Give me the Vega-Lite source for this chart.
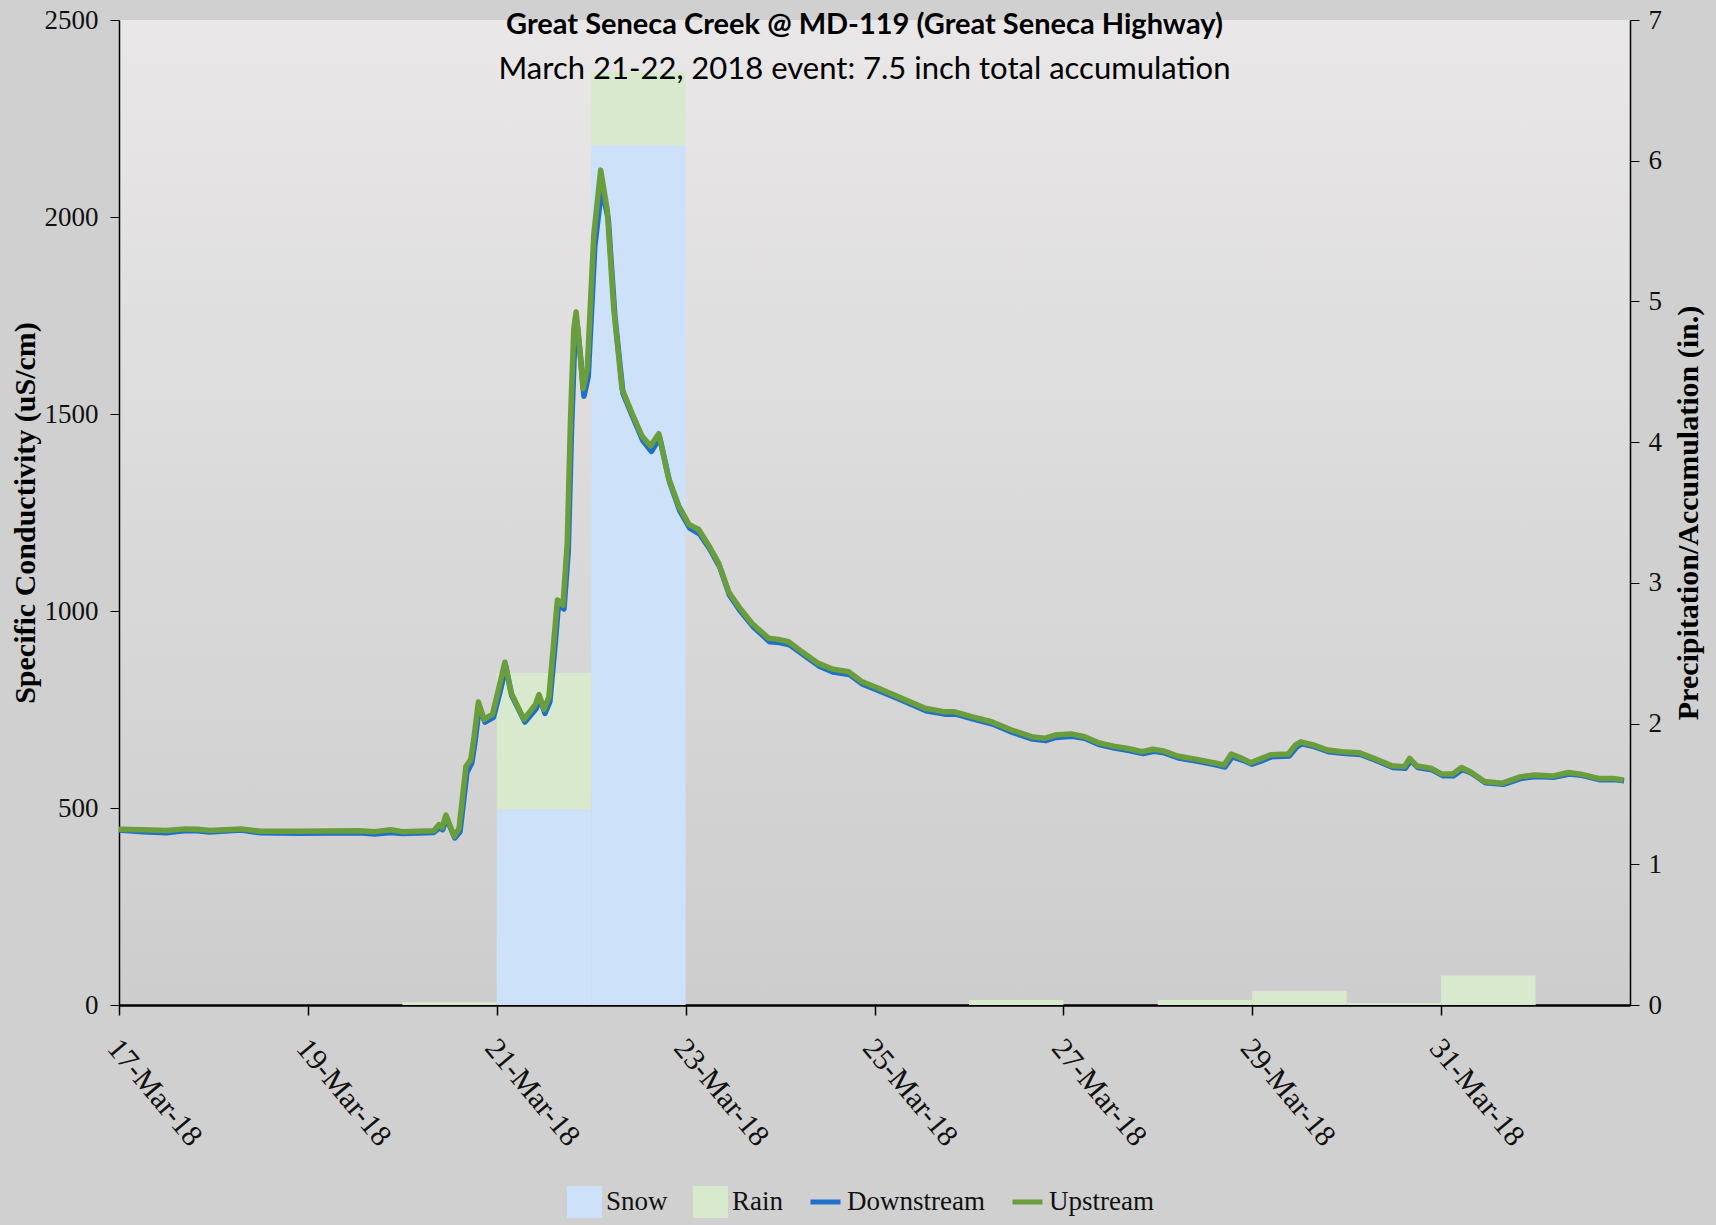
{
  "$schema": "https://vega.github.io/schema/vega-lite/v6.json",
  "width": 1511,
  "height": 985,
  "autosize": {"type": "none"},
  "padding": {"left": 119, "top": 20, "right": 86, "bottom": 220},
  "background": "#d0d0d0",
  "view": {
    "stroke": null,
    "fill": {
      "gradient": "linear", "x1": 0, "y1": 0, "x2": 0, "y2": 1,
      "stops": [{"offset": 0, "color": "#e9e7e8"}, {"offset": 1, "color": "#cdcdcd"}]
    }
  },
  "title": {
    "text": "Great Seneca Creek @ MD-119 (Great Seneca Highway)",
    "subtitle": "March 21-22, 2018 event: 7.5 inch total accumulation",
    "anchor": "middle",
    "frame": "group",
    "offset": -79,
    "dx": -10,
    "font": "Lato",
    "fontSize": 29,
    "fontWeight": "bold",
    "color": "#000000",
    "subtitleFont": "Lato",
    "subtitleFontSize": 31,
    "subtitleColor": "#000000",
    "subtitlePadding": 15
  },
  "datasets": {
    "precip": [
      {"date": "2018-03-20T00:00", "end": "2018-03-21T00:00", "type": "Rain", "v": 0.02},
      {"date": "2018-03-21T00:00", "end": "2018-03-22T00:00", "type": "Snow", "v": 1.39},
      {"date": "2018-03-21T00:00", "end": "2018-03-22T00:00", "type": "Rain", "v": 0.97},
      {"date": "2018-03-22T00:00", "end": "2018-03-23T00:00", "type": "Snow", "v": 6.11},
      {"date": "2018-03-22T00:00", "end": "2018-03-23T00:00", "type": "Rain", "v": 0.52},
      {"date": "2018-03-26T00:00", "end": "2018-03-27T00:00", "type": "Rain", "v": 0.035},
      {"date": "2018-03-28T00:00", "end": "2018-03-29T00:00", "type": "Rain", "v": 0.035},
      {"date": "2018-03-29T00:00", "end": "2018-03-30T00:00", "type": "Rain", "v": 0.1},
      {"date": "2018-03-30T00:00", "end": "2018-03-31T00:00", "type": "Rain", "v": 0.015},
      {"date": "2018-03-31T00:00", "end": "2018-04-01T00:00", "type": "Rain", "v": 0.21}
    ],
    "down": [
      {"t": "2018-03-17T00:00", "site": "Downstream", "v": 444},
      {"t": "2018-03-17T06:00", "site": "Downstream", "v": 440},
      {"t": "2018-03-17T12:00", "site": "Downstream", "v": 437},
      {"t": "2018-03-17T17:00", "site": "Downstream", "v": 443},
      {"t": "2018-03-17T20:00", "site": "Downstream", "v": 442},
      {"t": "2018-03-17T23:00", "site": "Downstream", "v": 439},
      {"t": "2018-03-18T07:00", "site": "Downstream", "v": 444},
      {"t": "2018-03-18T12:00", "site": "Downstream", "v": 437},
      {"t": "2018-03-18T22:00", "site": "Downstream", "v": 436},
      {"t": "2018-03-19T13:00", "site": "Downstream", "v": 437},
      {"t": "2018-03-19T17:00", "site": "Downstream", "v": 434},
      {"t": "2018-03-19T21:00", "site": "Downstream", "v": 438},
      {"t": "2018-03-20T00:00", "site": "Downstream", "v": 435},
      {"t": "2018-03-20T08:00", "site": "Downstream", "v": 438},
      {"t": "2018-03-20T09:30", "site": "Downstream", "v": 450},
      {"t": "2018-03-20T10:15", "site": "Downstream", "v": 445},
      {"t": "2018-03-20T11:15", "site": "Downstream", "v": 474},
      {"t": "2018-03-20T13:20", "site": "Downstream", "v": 424},
      {"t": "2018-03-20T14:40", "site": "Downstream", "v": 440},
      {"t": "2018-03-20T16:25", "site": "Downstream", "v": 590},
      {"t": "2018-03-20T17:40", "site": "Downstream", "v": 615},
      {"t": "2018-03-20T18:30", "site": "Downstream", "v": 670},
      {"t": "2018-03-20T19:35", "site": "Downstream", "v": 758},
      {"t": "2018-03-20T21:00", "site": "Downstream", "v": 718},
      {"t": "2018-03-20T23:10", "site": "Downstream", "v": 730},
      {"t": "2018-03-21T00:50", "site": "Downstream", "v": 795},
      {"t": "2018-03-21T02:20", "site": "Downstream", "v": 858},
      {"t": "2018-03-21T03:50", "site": "Downstream", "v": 785},
      {"t": "2018-03-21T07:10", "site": "Downstream", "v": 718},
      {"t": "2018-03-21T10:00", "site": "Downstream", "v": 752},
      {"t": "2018-03-21T11:00", "site": "Downstream", "v": 778},
      {"t": "2018-03-21T12:15", "site": "Downstream", "v": 740},
      {"t": "2018-03-21T13:30", "site": "Downstream", "v": 770},
      {"t": "2018-03-21T14:50", "site": "Downstream", "v": 915},
      {"t": "2018-03-21T15:40", "site": "Downstream", "v": 1015},
      {"t": "2018-03-21T17:05", "site": "Downstream", "v": 1005},
      {"t": "2018-03-21T18:10", "site": "Downstream", "v": 1150},
      {"t": "2018-03-21T19:00", "site": "Downstream", "v": 1460},
      {"t": "2018-03-21T19:50", "site": "Downstream", "v": 1690},
      {"t": "2018-03-21T20:25", "site": "Downstream", "v": 1730},
      {"t": "2018-03-21T21:20", "site": "Downstream", "v": 1640},
      {"t": "2018-03-21T22:10", "site": "Downstream", "v": 1545},
      {"t": "2018-03-21T23:15", "site": "Downstream", "v": 1595},
      {"t": "2018-03-22T00:55", "site": "Downstream", "v": 1925},
      {"t": "2018-03-22T02:40", "site": "Downstream", "v": 2075},
      {"t": "2018-03-22T04:20", "site": "Downstream", "v": 1995},
      {"t": "2018-03-22T06:00", "site": "Downstream", "v": 1750},
      {"t": "2018-03-22T08:05", "site": "Downstream", "v": 1552},
      {"t": "2018-03-22T10:40", "site": "Downstream", "v": 1490},
      {"t": "2018-03-22T13:10", "site": "Downstream", "v": 1432},
      {"t": "2018-03-22T15:20", "site": "Downstream", "v": 1405},
      {"t": "2018-03-22T17:25", "site": "Downstream", "v": 1440},
      {"t": "2018-03-22T19:55", "site": "Downstream", "v": 1328},
      {"t": "2018-03-22T22:30", "site": "Downstream", "v": 1255},
      {"t": "2018-03-23T01:05", "site": "Downstream", "v": 1210},
      {"t": "2018-03-23T03:35", "site": "Downstream", "v": 1195},
      {"t": "2018-03-23T06:05", "site": "Downstream", "v": 1158},
      {"t": "2018-03-23T08:40", "site": "Downstream", "v": 1112},
      {"t": "2018-03-23T11:10", "site": "Downstream", "v": 1040},
      {"t": "2018-03-23T13:45", "site": "Downstream", "v": 1002},
      {"t": "2018-03-23T17:05", "site": "Downstream", "v": 961},
      {"t": "2018-03-23T21:20", "site": "Downstream", "v": 922},
      {"t": "2018-03-23T23:50", "site": "Downstream", "v": 920},
      {"t": "2018-03-24T02:25", "site": "Downstream", "v": 914},
      {"t": "2018-03-24T05:45", "site": "Downstream", "v": 890},
      {"t": "2018-03-24T10:00", "site": "Downstream", "v": 860},
      {"t": "2018-03-24T13:25", "site": "Downstream", "v": 845},
      {"t": "2018-03-24T17:40", "site": "Downstream", "v": 839},
      {"t": "2018-03-24T21:00", "site": "Downstream", "v": 814},
      {"t": "2018-03-25T01:15", "site": "Downstream", "v": 797},
      {"t": "2018-03-25T06:20", "site": "Downstream", "v": 776},
      {"t": "2018-03-25T13:05", "site": "Downstream", "v": 747},
      {"t": "2018-03-25T18:10", "site": "Downstream", "v": 738},
      {"t": "2018-03-25T20:40", "site": "Downstream", "v": 738},
      {"t": "2018-03-26T00:55", "site": "Downstream", "v": 726},
      {"t": "2018-03-26T06:00", "site": "Downstream", "v": 713},
      {"t": "2018-03-26T11:05", "site": "Downstream", "v": 692},
      {"t": "2018-03-26T16:10", "site": "Downstream", "v": 675},
      {"t": "2018-03-26T19:30", "site": "Downstream", "v": 671},
      {"t": "2018-03-26T22:05", "site": "Downstream", "v": 679},
      {"t": "2018-03-27T02:15", "site": "Downstream", "v": 682},
      {"t": "2018-03-27T05:40", "site": "Downstream", "v": 676},
      {"t": "2018-03-27T09:05", "site": "Downstream", "v": 661},
      {"t": "2018-03-27T13:00", "site": "Downstream", "v": 652},
      {"t": "2018-03-27T16:40", "site": "Downstream", "v": 646},
      {"t": "2018-03-27T20:15", "site": "Downstream", "v": 638},
      {"t": "2018-03-27T23:00", "site": "Downstream", "v": 644},
      {"t": "2018-03-28T01:40", "site": "Downstream", "v": 640},
      {"t": "2018-03-28T05:15", "site": "Downstream", "v": 627},
      {"t": "2018-03-28T09:50", "site": "Downstream", "v": 619},
      {"t": "2018-03-28T14:25", "site": "Downstream", "v": 610},
      {"t": "2018-03-28T17:05", "site": "Downstream", "v": 604},
      {"t": "2018-03-28T18:55", "site": "Downstream", "v": 630},
      {"t": "2018-03-28T21:40", "site": "Downstream", "v": 621},
      {"t": "2018-03-28T23:55", "site": "Downstream", "v": 611},
      {"t": "2018-03-29T02:10", "site": "Downstream", "v": 619},
      {"t": "2018-03-29T04:55", "site": "Downstream", "v": 630},
      {"t": "2018-03-29T09:25", "site": "Downstream", "v": 632},
      {"t": "2018-03-29T11:15", "site": "Downstream", "v": 654},
      {"t": "2018-03-29T12:35", "site": "Downstream", "v": 663},
      {"t": "2018-03-29T15:45", "site": "Downstream", "v": 656},
      {"t": "2018-03-29T19:25", "site": "Downstream", "v": 643},
      {"t": "2018-03-29T23:05", "site": "Downstream", "v": 639},
      {"t": "2018-03-30T03:30", "site": "Downstream", "v": 636},
      {"t": "2018-03-30T07:10", "site": "Downstream", "v": 622},
      {"t": "2018-03-30T11:45", "site": "Downstream", "v": 603},
      {"t": "2018-03-30T14:55", "site": "Downstream", "v": 601},
      {"t": "2018-03-30T16:15", "site": "Downstream", "v": 620},
      {"t": "2018-03-30T18:05", "site": "Downstream", "v": 603},
      {"t": "2018-03-30T21:40", "site": "Downstream", "v": 597},
      {"t": "2018-03-31T00:25", "site": "Downstream", "v": 582},
      {"t": "2018-03-31T03:10", "site": "Downstream", "v": 582},
      {"t": "2018-03-31T05:25", "site": "Downstream", "v": 598},
      {"t": "2018-03-31T07:40", "site": "Downstream", "v": 589},
      {"t": "2018-03-31T11:15", "site": "Downstream", "v": 564},
      {"t": "2018-03-31T15:50", "site": "Downstream", "v": 560},
      {"t": "2018-03-31T20:20", "site": "Downstream", "v": 575},
      {"t": "2018-04-01T00:00", "site": "Downstream", "v": 580},
      {"t": "2018-04-01T04:30", "site": "Downstream", "v": 578},
      {"t": "2018-04-01T08:35", "site": "Downstream", "v": 586},
      {"t": "2018-04-01T11:45", "site": "Downstream", "v": 583},
      {"t": "2018-04-01T16:15", "site": "Downstream", "v": 572},
      {"t": "2018-04-01T19:55", "site": "Downstream", "v": 572},
      {"t": "2018-04-01T22:30", "site": "Downstream", "v": 569}
    ],
    "up": [
      {"t": "2018-03-17T00:00", "site": "Upstream", "v": 446},
      {"t": "2018-03-17T06:00", "site": "Upstream", "v": 445},
      {"t": "2018-03-17T12:00", "site": "Upstream", "v": 443},
      {"t": "2018-03-17T17:00", "site": "Upstream", "v": 447},
      {"t": "2018-03-17T20:00", "site": "Upstream", "v": 446},
      {"t": "2018-03-17T23:00", "site": "Upstream", "v": 443},
      {"t": "2018-03-18T07:00", "site": "Upstream", "v": 447},
      {"t": "2018-03-18T12:00", "site": "Upstream", "v": 441},
      {"t": "2018-03-18T22:00", "site": "Upstream", "v": 441},
      {"t": "2018-03-19T13:00", "site": "Upstream", "v": 442},
      {"t": "2018-03-19T17:00", "site": "Upstream", "v": 440},
      {"t": "2018-03-19T21:00", "site": "Upstream", "v": 445},
      {"t": "2018-03-20T00:00", "site": "Upstream", "v": 440},
      {"t": "2018-03-20T08:00", "site": "Upstream", "v": 442},
      {"t": "2018-03-20T09:20", "site": "Upstream", "v": 458},
      {"t": "2018-03-20T10:05", "site": "Upstream", "v": 450},
      {"t": "2018-03-20T11:05", "site": "Upstream", "v": 482},
      {"t": "2018-03-20T13:10", "site": "Upstream", "v": 428},
      {"t": "2018-03-20T14:25", "site": "Upstream", "v": 448},
      {"t": "2018-03-20T16:10", "site": "Upstream", "v": 605},
      {"t": "2018-03-20T17:25", "site": "Upstream", "v": 624},
      {"t": "2018-03-20T18:15", "site": "Upstream", "v": 681},
      {"t": "2018-03-20T19:20", "site": "Upstream", "v": 769},
      {"t": "2018-03-20T20:45", "site": "Upstream", "v": 725},
      {"t": "2018-03-20T22:55", "site": "Upstream", "v": 738},
      {"t": "2018-03-21T00:35", "site": "Upstream", "v": 807},
      {"t": "2018-03-21T02:05", "site": "Upstream", "v": 870},
      {"t": "2018-03-21T03:35", "site": "Upstream", "v": 794},
      {"t": "2018-03-21T06:55", "site": "Upstream", "v": 725},
      {"t": "2018-03-21T09:50", "site": "Upstream", "v": 763},
      {"t": "2018-03-21T10:45", "site": "Upstream", "v": 788},
      {"t": "2018-03-21T12:00", "site": "Upstream", "v": 750},
      {"t": "2018-03-21T13:15", "site": "Upstream", "v": 782},
      {"t": "2018-03-21T14:35", "site": "Upstream", "v": 933},
      {"t": "2018-03-21T15:25", "site": "Upstream", "v": 1028},
      {"t": "2018-03-21T16:50", "site": "Upstream", "v": 1015},
      {"t": "2018-03-21T17:55", "site": "Upstream", "v": 1173},
      {"t": "2018-03-21T18:45", "site": "Upstream", "v": 1488},
      {"t": "2018-03-21T19:35", "site": "Upstream", "v": 1715},
      {"t": "2018-03-21T20:10", "site": "Upstream", "v": 1759},
      {"t": "2018-03-21T21:05", "site": "Upstream", "v": 1665},
      {"t": "2018-03-21T21:55", "site": "Upstream", "v": 1564},
      {"t": "2018-03-21T23:00", "site": "Upstream", "v": 1614},
      {"t": "2018-03-22T00:40", "site": "Upstream", "v": 1955},
      {"t": "2018-03-22T02:25", "site": "Upstream", "v": 2119},
      {"t": "2018-03-22T04:05", "site": "Upstream", "v": 2018},
      {"t": "2018-03-22T05:45", "site": "Upstream", "v": 1766},
      {"t": "2018-03-22T07:50", "site": "Upstream", "v": 1564},
      {"t": "2018-03-22T10:25", "site": "Upstream", "v": 1501},
      {"t": "2018-03-22T12:55", "site": "Upstream", "v": 1444},
      {"t": "2018-03-22T15:05", "site": "Upstream", "v": 1419},
      {"t": "2018-03-22T17:10", "site": "Upstream", "v": 1450},
      {"t": "2018-03-22T19:40", "site": "Upstream", "v": 1337},
      {"t": "2018-03-22T22:15", "site": "Upstream", "v": 1267},
      {"t": "2018-03-23T00:50", "site": "Upstream", "v": 1220},
      {"t": "2018-03-23T03:20", "site": "Upstream", "v": 1207},
      {"t": "2018-03-23T05:50", "site": "Upstream", "v": 1167},
      {"t": "2018-03-23T08:25", "site": "Upstream", "v": 1121},
      {"t": "2018-03-23T10:55", "site": "Upstream", "v": 1049},
      {"t": "2018-03-23T13:30", "site": "Upstream", "v": 1011},
      {"t": "2018-03-23T16:50", "site": "Upstream", "v": 969},
      {"t": "2018-03-23T21:05", "site": "Upstream", "v": 931},
      {"t": "2018-03-23T23:35", "site": "Upstream", "v": 928},
      {"t": "2018-03-24T02:10", "site": "Upstream", "v": 922},
      {"t": "2018-03-24T05:30", "site": "Upstream", "v": 897},
      {"t": "2018-03-24T09:45", "site": "Upstream", "v": 867},
      {"t": "2018-03-24T13:10", "site": "Upstream", "v": 853},
      {"t": "2018-03-24T17:25", "site": "Upstream", "v": 846},
      {"t": "2018-03-24T20:45", "site": "Upstream", "v": 821},
      {"t": "2018-03-25T01:00", "site": "Upstream", "v": 804},
      {"t": "2018-03-25T06:05", "site": "Upstream", "v": 782},
      {"t": "2018-03-25T12:50", "site": "Upstream", "v": 753},
      {"t": "2018-03-25T17:55", "site": "Upstream", "v": 744},
      {"t": "2018-03-25T20:25", "site": "Upstream", "v": 744},
      {"t": "2018-03-26T00:40", "site": "Upstream", "v": 732},
      {"t": "2018-03-26T05:45", "site": "Upstream", "v": 719},
      {"t": "2018-03-26T10:50", "site": "Upstream", "v": 698},
      {"t": "2018-03-26T15:55", "site": "Upstream", "v": 681},
      {"t": "2018-03-26T19:15", "site": "Upstream", "v": 677},
      {"t": "2018-03-26T21:50", "site": "Upstream", "v": 685},
      {"t": "2018-03-27T02:00", "site": "Upstream", "v": 688},
      {"t": "2018-03-27T05:25", "site": "Upstream", "v": 681},
      {"t": "2018-03-27T08:50", "site": "Upstream", "v": 666},
      {"t": "2018-03-27T12:45", "site": "Upstream", "v": 657},
      {"t": "2018-03-27T16:25", "site": "Upstream", "v": 651},
      {"t": "2018-03-27T20:00", "site": "Upstream", "v": 643},
      {"t": "2018-03-27T22:45", "site": "Upstream", "v": 649},
      {"t": "2018-03-28T01:25", "site": "Upstream", "v": 645},
      {"t": "2018-03-28T05:00", "site": "Upstream", "v": 632},
      {"t": "2018-03-28T09:35", "site": "Upstream", "v": 624},
      {"t": "2018-03-28T14:10", "site": "Upstream", "v": 615},
      {"t": "2018-03-28T16:50", "site": "Upstream", "v": 609},
      {"t": "2018-03-28T18:40", "site": "Upstream", "v": 637},
      {"t": "2018-03-28T21:25", "site": "Upstream", "v": 626},
      {"t": "2018-03-28T23:40", "site": "Upstream", "v": 615},
      {"t": "2018-03-29T01:55", "site": "Upstream", "v": 624},
      {"t": "2018-03-29T04:40", "site": "Upstream", "v": 635},
      {"t": "2018-03-29T09:10", "site": "Upstream", "v": 637},
      {"t": "2018-03-29T11:00", "site": "Upstream", "v": 660},
      {"t": "2018-03-29T12:20", "site": "Upstream", "v": 668},
      {"t": "2018-03-29T15:30", "site": "Upstream", "v": 660},
      {"t": "2018-03-29T19:10", "site": "Upstream", "v": 647},
      {"t": "2018-03-29T22:50", "site": "Upstream", "v": 643},
      {"t": "2018-03-30T03:15", "site": "Upstream", "v": 640},
      {"t": "2018-03-30T06:55", "site": "Upstream", "v": 626},
      {"t": "2018-03-30T11:30", "site": "Upstream", "v": 607},
      {"t": "2018-03-30T14:40", "site": "Upstream", "v": 605},
      {"t": "2018-03-30T16:00", "site": "Upstream", "v": 626},
      {"t": "2018-03-30T17:50", "site": "Upstream", "v": 607},
      {"t": "2018-03-30T21:25", "site": "Upstream", "v": 601},
      {"t": "2018-03-31T00:10", "site": "Upstream", "v": 586},
      {"t": "2018-03-31T02:55", "site": "Upstream", "v": 586},
      {"t": "2018-03-31T05:10", "site": "Upstream", "v": 603},
      {"t": "2018-03-31T07:25", "site": "Upstream", "v": 592},
      {"t": "2018-03-31T11:00", "site": "Upstream", "v": 567},
      {"t": "2018-03-31T15:35", "site": "Upstream", "v": 563},
      {"t": "2018-03-31T20:05", "site": "Upstream", "v": 579},
      {"t": "2018-03-31T23:45", "site": "Upstream", "v": 584},
      {"t": "2018-04-01T04:15", "site": "Upstream", "v": 581},
      {"t": "2018-04-01T08:20", "site": "Upstream", "v": 590},
      {"t": "2018-04-01T11:30", "site": "Upstream", "v": 586},
      {"t": "2018-04-01T16:00", "site": "Upstream", "v": 575},
      {"t": "2018-04-01T19:40", "site": "Upstream", "v": 575},
      {"t": "2018-04-01T22:20", "site": "Upstream", "v": 571}
    ]
  },
  "layer": [
    {
      "data": {"name": "precip"},
      "transform": [
        {"stack": "v", "groupby": ["date"], "sort": [{"field": "type", "order": "descending"}], "as": ["v0", "v1"]}
      ],
      "mark": {"type": "rect"},
      "encoding": {
        "x": {
          "field": "date", "type": "temporal", "title": null,
          "scale": {"domain": [{"year": 2018, "month": 3, "date": 17}, {"year": 2018, "month": 4, "date": 2}]},
          "axis": {
            "values": [
              {"year": 2018, "month": 3, "date": 17}, {"year": 2018, "month": 3, "date": 19},
              {"year": 2018, "month": 3, "date": 21}, {"year": 2018, "month": 3, "date": 23},
              {"year": 2018, "month": 3, "date": 25}, {"year": 2018, "month": 3, "date": 27},
              {"year": 2018, "month": 3, "date": 29}, {"year": 2018, "month": 3, "date": 31}
            ],
            "format": "%-d-%b-%y",
            "labelAngle": 50,
            "labelAlign": "left",
            "labelBaseline": "top",
            "labelPadding": 18,
            "labelOffset": 5,
            "labelFont": "Liberation Serif",
            "labelFontSize": 30,
            "labelColor": "#111111",
            "tickSize": 10,
            "tickColor": "#000000",
            "tickWidth": 1.5,
            "domainColor": "#000000",
            "domainWidth": 2.5,
            "grid": false
          }
        },
        "x2": {"field": "end"},
        "y": {
          "field": "v0", "type": "quantitative",
          "scale": {"domain": [0, 7]},
          "axis": {
            "orient": "right",
            "title": "Precipitation/Accumulation  (in.)",
            "values": [0, 1, 2, 3, 4, 5, 6, 7],
            "format": "d",
            "grid": false,
            "labelFont": "Liberation Serif",
            "labelFontSize": 27,
            "labelColor": "#111111",
            "labelPadding": 9,
            "tickSize": 9,
            "tickColor": "#000000",
            "domainColor": "#000000",
            "domainWidth": 1.5,
            "titleFont": "Liberation Serif",
            "titleFontSize": 30,
            "titleFontWeight": "bold",
            "titleColor": "#000000",
            "titleAngle": 270,
            "titleBaseline": "top",
            "titlePadding": 12
          }
        },
        "y2": {"field": "v1"},
        "color": {
          "field": "type", "type": "nominal",
          "scale": {
            "domain": ["Snow", "Rain", "Downstream", "Upstream"],
            "range": ["#cde1f8", "#d8e9cd", "#1f70c8", "#6a9e3c"]
          },
          "legend": {
            "title": null,
            "orient": "none",
            "direction": "horizontal",
            "legendX": 448,
            "legendY": 1166,
            "labelFont": "Liberation Serif",
            "labelFontSize": 27,
            "labelColor": "#111111",
            "labelOffset": 4,
            "columnPadding": 25,
            "symbolSize": 900,
            "clipHeight": 32,
            "encode": {
              "symbols": {
                "update": {
                  "shape": {"signal": "datum.value === 'Snow' || datum.value === 'Rain' ? 'square' : 'stroke'"},
                  "fill": {"signal": "datum.value === 'Snow' || datum.value === 'Rain' ? scale('color', datum.value) : 'transparent'"},
                  "stroke": {"signal": "datum.value === 'Snow' || datum.value === 'Rain' ? 'transparent' : scale('color', datum.value)"},
                  "strokeWidth": {"value": 5},
                  "opacity": {"value": 1}
                }
              }
            }
          }
        }
      }
    },
    {
      "data": {"name": "down"},
      "mark": {"type": "line", "strokeWidth": 5.5, "strokeJoin": "round"},
      "encoding": {
        "x": {"field": "t", "type": "temporal", "title": null},
        "y": {
          "field": "v", "type": "quantitative",
          "scale": {"domain": [0, 2500]},
          "axis": {
            "orient": "left",
            "title": "Specific Conductivity (uS/cm)",
            "values": [0, 500, 1000, 1500, 2000, 2500],
            "format": "d",
            "grid": false,
            "labelFont": "Liberation Serif",
            "labelFontSize": 27,
            "labelColor": "#111111",
            "labelPadding": 12,
            "tickSize": 9,
            "tickColor": "#000000",
            "domainColor": "#000000",
            "domainWidth": 1.5,
            "titleFont": "Liberation Serif",
            "titleFontSize": 30,
            "titleFontWeight": "bold",
            "titleColor": "#000000",
            "titlePadding": 4
          }
        },
        "color": {"field": "site", "type": "nominal"}
      }
    },
    {
      "data": {"name": "up"},
      "mark": {"type": "line", "strokeWidth": 5.5, "strokeJoin": "round"},
      "encoding": {
        "x": {"field": "t", "type": "temporal", "title": null},
        "y": {"field": "v", "type": "quantitative", "scale": {"domain": [0, 2500]}, "axis": null},
        "color": {"field": "site", "type": "nominal"}
      }
    }
  ],
  "resolve": {"scale": {"y": "independent"}, "axis": {"y": "independent"}}
}
